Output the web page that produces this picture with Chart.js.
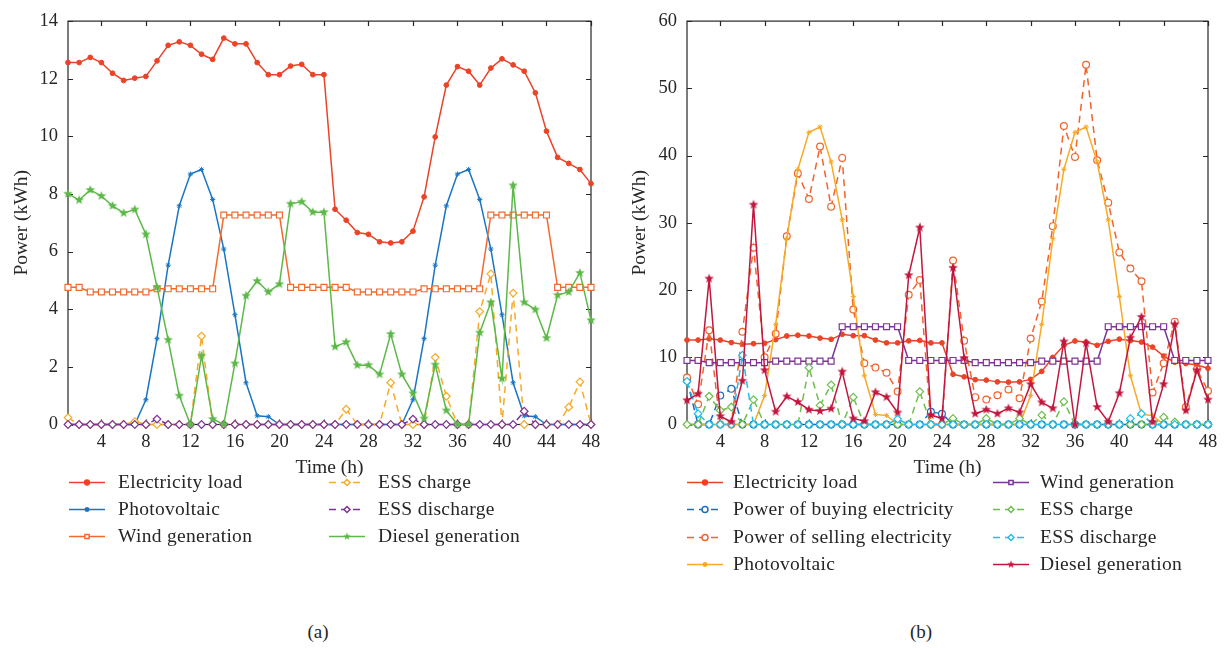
<!DOCTYPE html>
<html>
<head>
<meta charset="utf-8">
<script src="https://cdn.jsdelivr.net/npm/chart.js@4.4.1/dist/chart.umd.min.js"></script>
<style>
  body { margin: 0; background: #fff; width: 1228px; height: 648px; position: relative; overflow: hidden;
         font-family: "Liberation Serif", "DejaVu Serif", serif; color: #262626; }
  canvas.plot { position: absolute; top: 0; }
  .leg { position: absolute; font-size: 19.5px; letter-spacing: 0.3px; line-height: 20px; white-space: nowrap; }
  .leg canvas { position: absolute; left: 0; top: 3px; }
  .cap { position: absolute; font-size: 19px; transform: translateX(-50%); }
</style>
</head>
<body>
<canvas id="chartA" class="plot" width="614" height="490" style="left:0"></canvas>
<canvas id="chartB" class="plot" width="614" height="490" style="left:614px"></canvas>
<div id="legends"></div>
<div class="cap" style="left:318px;top:621px">(a)</div>
<div class="cap" style="left:921px;top:621px">(b)</div>
<script>
// hours and axis ticks
const hours = [1,2,3,4,5,6,7,8,9,10,11,12,13,14,15,16,17,18,19,20,21,22,23,24,
               25,26,27,28,29,30,31,32,33,34,35,36,37,38,39,40,41,42,43,44,45,46,47,48];
const xTicks = [4,8,12,16,20,24,28,32,36,40,44,48];
const yTicksA = [0,2,4,6,8,10,12,14];
const yTicksB = [0,10,20,30,40,50,60];

// (a)
const loadA = [12.56,12.56,12.74,12.56,12.19,11.94,12.02,12.08,12.62,13.16,13.28,13.16,12.85,12.67,13.41,13.21,13.21,12.56,12.14,12.14,12.44,12.5,12.14,12.14,
               7.47,7.09,6.66,6.6,6.34,6.3,6.34,6.71,7.9,9.98,11.78,12.42,12.26,11.78,12.37,12.69,12.48,12.26,11.51,10.18,9.27,9.06,8.85,8.36];
const pvA = [0,0,0,0,0,0,0,0.86,2.98,5.53,7.59,8.69,8.85,7.81,6.09,3.81,1.45,0.3,0.27,0,0,0,0,0,
             0,0,0,0,0,0,0,0.86,2.98,5.53,7.59,8.69,8.85,7.81,6.09,3.81,1.45,0.3,0.27,0,0,0,0,0];
const windA = [4.76,4.76,4.6,4.6,4.6,4.6,4.6,4.6,4.71,4.71,4.71,4.71,4.71,4.71,7.27,7.27,7.27,7.27,7.27,7.27,4.76,4.76,4.76,4.76,
               4.76,4.76,4.6,4.6,4.6,4.6,4.6,4.6,4.71,4.71,4.71,4.71,4.71,4.71,7.27,7.27,7.27,7.27,7.27,7.27,4.76,4.76,4.76,4.76];
const essChA = [0.24,0,0,0,0,0,0.1,0,0,0,0,0,3.07,0,0,0,0,0,0,0,0,0,0,0,
                0,0.53,0,0,0,1.45,0,0,0,2.33,0.98,0,0,3.92,5.23,0,4.56,0,0,0,0,0.6,1.48,0];
const essDisA = [0,0,0,0,0,0,0,0,0.19,0,0,0,0,0,0,0,0,0,0,0,0,0,0,0,
                 0,0,0,0,0,0,0,0.19,0,0,0,0,0,0,0,0,0,0.46,0,0,0,0,0,0];
const dieselA = [8.01,7.79,8.14,7.93,7.59,7.34,7.46,6.6,4.76,2.94,1.0,0,2.39,0.19,0,2.12,4.47,4.98,4.6,4.87,7.66,7.73,7.37,7.37,
                 2.7,2.86,2.06,2.06,1.74,3.14,1.74,1.08,0.21,2.08,0.49,0,0,3.19,4.24,1.6,8.3,4.24,3.99,3.0,4.49,4.6,5.26,3.62];

// (b)
const loadB = loadA;
const buyB = [6.6,0,0,4.3,5.3,0,0,0,0,0,0,0,0,0,0,0,0,0,0,0,0,0,1.9,1.6,
              0,0,0,0,0,0,0,0,0,0,0,0,0,0,0,0,0,0,0,0,0,0,0,0];
const sellB = [7.0,3.0,14.0,0,0,13.8,26.3,10.0,13.5,28.0,37.35,33.55,41.35,32.4,39.65,17.1,9.1,8.46,7.7,4.9,19.3,21.5,0,0,
               24.4,12.45,4.07,3.7,4.36,5.2,3.9,12.8,18.3,29.5,44.4,39.8,53.5,39.3,33.0,25.6,23.2,21.3,4.75,9.1,15.3,2.6,8.2,5.0];
const pvB = [0,0,0,0,0,0,0,4.3,14.9,27.65,37.95,43.45,44.25,39.05,30.45,19.05,7.25,1.5,1.35,0,0,0,0,0,
             0,0,0,0,0,0,0,4.3,14.9,27.65,37.95,43.45,44.25,39.05,30.45,19.05,7.25,1.5,1.35,0,0,0,0,0];
const windB = [9.52,9.52,9.2,9.2,9.2,9.2,9.2,9.2,9.42,9.42,9.42,9.42,9.42,9.42,14.54,14.54,14.54,14.54,14.54,14.54,9.52,9.52,9.52,9.52,
               9.52,9.52,9.2,9.2,9.2,9.2,9.2,9.2,9.42,9.42,9.42,9.42,9.42,9.42,14.54,14.54,14.54,14.54,14.54,14.54,9.52,9.52,9.52,9.52];
const essChB = [0,0,4.2,2.1,2.6,0,3.7,0,0,0,0,8.45,2.85,5.9,0,4.07,0,0,0,0,0,4.9,0,0,
                0.9,0,0,0.9,0,0,0.9,0,1.4,0,3.4,0,0,0,0,0,0,0,0,1.1,0.4,0,0,0];
const essDisB = [6.4,1.6,0,0,0,10.3,0,0,0,0,0,0,0,0,0,0,0,0,0,0.8,0,0,0,0,
                 0,0,0,0,0,0,0,0,0,0,0,0,0,0,0,0,0.9,1.6,0,0,0,0,0,0];
const dieselB = [3.6,4.56,21.7,1.24,0.4,6.5,32.7,8.07,1.9,4.17,3.34,2.2,2.0,2.36,7.87,0.9,0.5,4.8,4.07,1.78,22.2,29.3,1.4,0.9,
                 23.3,9.9,1.6,2.2,1.6,2.4,1.8,6.0,3.3,2.4,12.35,0,12.1,2.6,0.4,4.65,12.9,16.0,0.4,6.0,14.9,2.1,8.07,3.7];

const FONT = '"Liberation Serif", "DejaVu Serif", serif';
const INK = '#262626';

// filled five-point star used as marker
function starImg(color, r) {
  const s = Math.ceil(r * 2 + 2);
  const c = document.createElement('canvas');
  c.width = c.height = s;
  const g = c.getContext('2d');
  g.fillStyle = color;
  g.beginPath();
  for (let k = 0; k < 10; k++) {
    const rr = k % 2 ? r * 0.42 : r;
    const a = -Math.PI / 2 + k * Math.PI / 5;
    g.lineTo(s / 2 + rr * Math.cos(a), s / 2 + rr * Math.sin(a));
  }
  g.closePath();
  g.fill();
  return c;
}

// marker presets
const MK = {
  dot:     c => ({ pointStyle: 'circle', pointRadius: 2.4, pointBackgroundColor: c, pointBorderWidth: 1 }),
  ast:     c => ({ pointStyle: 'star', pointRadius: 2.6, pointBackgroundColor: c, pointBorderWidth: 1 }),
  square:  c => ({ pointStyle: 'rect', pointRadius: 4.2, pointBackgroundColor: '#fff', pointBorderWidth: 1.2 }),
  diamond: c => ({ pointStyle: 'rectRot', pointRadius: 3.8, pointBackgroundColor: '#fff', pointBorderWidth: 1.2 }),
  ring:    c => ({ pointStyle: 'circle', pointRadius: 3.4, pointBackgroundColor: '#fff', pointBorderWidth: 1.2 }),
  star:    c => ({ pointStyle: starImg(c, 5), pointRadius: 5, pointBackgroundColor: c, pointBorderWidth: 0 })
};

function series(label, values, color, marker, dashed) {
  return Object.assign({
    label,
    data: hours.map((h, i) => ({ x: h, y: values[i] })),
    borderColor: color,
    pointBorderColor: color,
    borderWidth: 1.5,
    borderDash: dashed ? [7, 5] : [],
    tension: 0,
    clip: false,
    _marker: marker,
    _dashed: dashed
  }, MK[marker](color));
}

// box with inward ticks, like the original figure
const boxTicks = {
  id: 'boxTicks',
  beforeDatasetsDraw(chart) {
    const { ctx, chartArea: a, scales: { x, y } } = chart;
    ctx.save();
    ctx.strokeStyle = INK;
    ctx.lineWidth = 1.2;
    ctx.strokeRect(a.left, a.top, a.right - a.left, a.bottom - a.top);
    ctx.beginPath();
    x.ticks.forEach(t => {
      const p = Math.round(x.getPixelForValue(t.value)) + 0.5;
      ctx.moveTo(p, a.bottom); ctx.lineTo(p, a.bottom - 5);
      ctx.moveTo(p, a.top); ctx.lineTo(p, a.top + 5);
    });
    y.ticks.forEach(t => {
      const p = Math.round(y.getPixelForValue(t.value)) + 0.5;
      ctx.moveTo(a.left, p); ctx.lineTo(a.left + 5, p);
      ctx.moveTo(a.right, p); ctx.lineTo(a.right - 5, p);
    });
    ctx.stroke();
    ctx.restore();
  }
};

function makeChart(id, datasets, yMax, yTicks, yWidth, yTitlePad, rightPad) {
  const n = datasets.length;
  datasets.forEach((d, i) => d.order = n - i); // last plotted sits on top
  return new Chart(document.getElementById(id), {
    type: 'line',
    data: { datasets },
    options: {
      responsive: false,
      animation: false,
      layout: { padding: { top: 14, right: rightPad, bottom: 8, left: 0 } },
      plugins: { legend: { display: false }, tooltip: { enabled: false } },
      scales: {
        x: {
          type: 'linear', min: 1, max: 48,
          afterBuildTicks: ax => { ax.ticks = xTicks.map(v => ({ value: v })); },
          afterFit: ax => { ax.height = 57.5; },
          grid: { display: false, drawTicks: false },
          border: { display: false },
          ticks: { color: INK, font: { family: FONT, size: 18.5 }, padding: 7, maxRotation: 0 },
          title: { display: true, text: 'Time (h)', color: INK, font: { family: FONT, size: 19.5 }, padding: { top: 0, bottom: 2 } }
        },
        y: {
          min: 0, max: yMax,
          afterBuildTicks: ax => { ax.ticks = yTicks.map(v => ({ value: v })); },
          afterFit: ax => { ax.width = yWidth; },
          grid: { display: false, drawTicks: false },
          border: { display: false },
          ticks: { color: INK, font: { family: FONT, size: 18.5 }, padding: 10 },
          title: { display: true, text: 'Power (kWh)', color: INK, font: { family: FONT, size: 19.5 }, padding: { top: yTitlePad, bottom: 0 } }
        }
      }
    },
    plugins: [boxTicks]
  });
}

const dsA = [
  series('Electricity load', loadA, '#ea4327', 'dot', false),
  series('Photovoltaic', pvA, '#1a76c4', 'ast', false),
  series('Wind generation', windA, '#f26a2e', 'square', false),
  series('ESS charge', essChA, '#f7aa25', 'diamond', true),
  series('ESS discharge', essDisA, '#7d3494', 'diamond', true),
  series('Diesel generation', dieselA, '#5cb848', 'star', false)
];
const dsB = [
  series('Electricity load', loadB, '#ea4327', 'dot', false),
  series('Power of buying electricity', buyB, '#1a70c0', 'ring', true),
  series('Power of selling electricity', sellB, '#f2622b', 'ring', true),
  series('Photovoltaic', pvB, '#f7aa25', 'ast', false),
  series('Wind generation', windB, '#7d3494', 'square', false),
  series('ESS charge', essChB, '#6cbf4c', 'diamond', true),
  series('ESS discharge', essDisB, '#22bfe8', 'diamond', true),
  series('Diesel generation', dieselB, '#c2163f', 'star', false)
];

makeChart('chartA', dsA, 14, yTicksA, 68, 10, 23);
makeChart('chartB', dsB, 60, yTicksB, 73, 14, 20);

// two-column legends under each panel
function legend(ds, cols, rowsY) {
  const box = document.getElementById('legends');
  const perCol = Math.ceil(ds.length / 2);
  ds.forEach((d, i) => {
    const col = cols[Math.floor(i / perCol)];
    const cy = rowsY[i % perCol];
    const item = document.createElement('div');
    item.className = 'leg';
    item.style.left = col.sample + 'px';
    item.style.top = (cy - 10) + 'px';
    item.style.paddingLeft = (col.text - col.sample) + 'px';
    item.textContent = d.label;
    const c = document.createElement('canvas');
    c.width = 36; c.height = 14;
    const g = c.getContext('2d');
    g.strokeStyle = d.borderColor;
    g.lineWidth = 1.5;
    g.setLineDash(d._dashed ? [7, 5] : []);
    g.beginPath(); g.moveTo(0, 7.5); g.lineTo(36, 7.5); g.stroke();
    g.setLineDash([]);
    g.fillStyle = d.pointBackgroundColor;
    g.strokeStyle = d.pointBorderColor;
    const r = d._marker === 'star' ? 4 : Math.min(d.pointRadius, 3);
    const style = d._marker === 'star' ? starImg(d.borderColor, 4) : d.pointStyle;
    if (Chart.helpers && Chart.helpers.drawPoint) {
      Chart.helpers.drawPoint(g, { pointStyle: style, radius: r, rotation: 0, borderWidth: d.pointBorderWidth || 1 }, 18, 7.5);
    }
    item.appendChild(c);
    box.appendChild(item);
  });
}
legend(dsA, [{ sample: 69, text: 118 }, { sample: 329, text: 378 }], [482, 509, 536]);
legend(dsB, [{ sample: 687, text: 733 }, { sample: 993, text: 1040 }], [482, 509, 537, 564]);
</script>
</body>
</html>
